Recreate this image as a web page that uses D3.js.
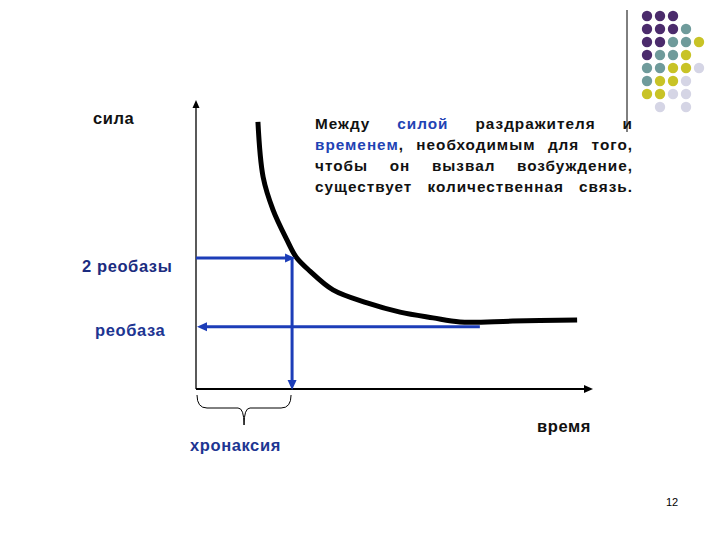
<!DOCTYPE html>
<html>
<head>
<meta charset="utf-8">
<script src="https://cdn.jsdelivr.net/npm/d3@7/dist/d3.min.js"></script>
<style>
  html, body { margin: 0; padding: 0; background: #fff; }
  svg text { font-family: Arial, "Liberation Sans", sans-serif; }
</style>
</head>
<body>
<div id="chart"></div>
<script>
// strength-duration curve, time and force in % of the axis length
const curveTime  = [15.6, 16.9, 19.4, 22.9, 25.2, 28.7, 34.5, 43.1, 51.4, 59.7, 66.5, 79.8, 96.0];
const curveForce = [92.4, 73.4, 62.0, 51.6, 45.7, 40.8, 34.3, 29.8, 26.6, 24.6, 23.2, 23.5, 23.9];
const rheobase = 21.5;
const twoRheobase = 45.3;
const chronaxie = 24.2;
const rheobaseEnd = 71.5;

const axisLabels = { y: "сила", x: "время", two: "2 реобазы", one: "реобаза", chron: "хронаксия" };
// text block, words marked with * are blue
const textLines = [
  ["Между", "*силой", "раздражителя", "и"],
  ["*временем,", "необходимым", "для", "того,"],
  ["чтобы", "он", "вызвал", "возбуждение,"],
  ["существует", "количественная", "связь."]
];
const pageNumber = "12";
// decorative dot grid, P purple, T teal, Y yellow, L lavender, . empty
const dotRows = ["PPP", "PPPT", "PPTTY", "PTTY", "TTYYL", "TYYL", "YYLL", ".L.L"];
const dotColors = { P: "#4b2b6c", T: "#6f9b9b", Y: "#c8c326", L: "#d5d5e5" };

const width = 720, height = 540;
const blue = "#1c3db8";

const svg = d3.select("#chart").append("svg")
  .attr("width", width)
  .attr("height", height);

const x = d3.scaleLinear().domain([0, 100]).range([196, 593]);
const y = d3.scaleLinear().domain([0, 100]).range([389, 100]);

// axes
svg.append("line")
  .attr("x1", x(0)).attr("y1", y(0))
  .attr("x2", x(0)).attr("y2", y(100) + 6)
  .attr("stroke", "#000").attr("stroke-width", 1.3);
svg.append("path")
  .attr("d", `M${x(0)},${y(100)} l-3.5,8 l7,0 z`)
  .attr("fill", "#000");
svg.append("line")
  .attr("x1", x(0)).attr("y1", y(0))
  .attr("x2", x(100) - 7).attr("y2", y(0))
  .attr("stroke", "#000").attr("stroke-width", 2);
svg.append("path")
  .attr("d", `M${x(100)},${y(0)} l-9,-4 l0,8 z`)
  .attr("fill", "#000");

// curve
const pts = curveTime.map((t, i) => [t, curveForce[i]]);
const line = d3.line()
  .curve(d3.curveCatmullRom.alpha(0.5))
  .x(d => x(d[0]))
  .y(d => y(d[1]));
svg.append("path")
  .datum(pts)
  .attr("d", line)
  .attr("fill", "none")
  .attr("stroke", "#000")
  .attr("stroke-width", 5);

// blue arrows
function arrowHead(tx, ty, dir) {
  const L = 10, W = 4.5;
  let d;
  if (dir === "right") d = `M${tx},${ty} l${-L},${-W} l0,${2 * W} z`;
  if (dir === "left") d = `M${tx},${ty} l${L},${-W} l0,${2 * W} z`;
  if (dir === "down") d = `M${tx},${ty} l${-W},${-L} l${2 * W},0 z`;
  svg.append("path").attr("d", d).attr("fill", blue);
}
svg.append("line")
  .attr("x1", x(0)).attr("y1", y(twoRheobase))
  .attr("x2", x(chronaxie) - 6).attr("y2", y(twoRheobase))
  .attr("stroke", blue).attr("stroke-width", 3);
arrowHead(x(chronaxie) + 3, y(twoRheobase), "right");
svg.append("line")
  .attr("x1", x(chronaxie)).attr("y1", y(twoRheobase))
  .attr("x2", x(chronaxie)).attr("y2", y(0) - 6)
  .attr("stroke", blue).attr("stroke-width", 3);
arrowHead(x(chronaxie), y(0) + 1, "down");
svg.append("line")
  .attr("x1", x(rheobaseEnd)).attr("y1", y(rheobase))
  .attr("x2", x(0) + 8).attr("y2", y(rheobase))
  .attr("stroke", blue).attr("stroke-width", 3);
arrowHead(x(0) + 1, y(rheobase), "left");

// brace under chronaxie
const bx0 = x(0) + 1, bx1 = x(chronaxie) - 1, bm = (bx0 + bx1) / 2, by = y(0) + 6;
svg.append("path")
  .attr("d", `M${bx0},${by} Q${bx0},${by + 13} ${bx0 + 10},${by + 13}
              L${bm - 6},${by + 13} Q${bm},${by + 13} ${bm},${by + 30}
              Q${bm},${by + 13} ${bm + 6},${by + 13}
              L${bx1 - 10},${by + 13} Q${bx1},${by + 13} ${bx1},${by}`)
  .attr("fill", "none").attr("stroke", "#000").attr("stroke-width", 1);

// labels
const lab = (t, px, py, fill) => svg.append("text")
  .attr("x", px).attr("y", py)
  .attr("fill", fill)
  .attr("font-size", 16.5)
  .attr("font-weight", "bold")
  .attr("letter-spacing", 0.6)
  .text(t);
lab(axisLabels.y, 93, 124, "#111");
lab(axisLabels.two, 82, 272, "#1b2c80");
lab(axisLabels.one, 95, 336, "#1d3592");
lab(axisLabels.chron, 190, 451, "#1d3592");
lab(axisLabels.x, 537, 432, "#111");

// justified text block
const tx0 = 315, tx1 = 633, lineH = 21, ty0 = 129;
textLines.forEach((words, li) => {
  const g = svg.append("g");
  const nodes = words.map(w => g.append("text")
    .attr("y", ty0 + li * lineH)
    .attr("font-size", 15.3)
    .attr("font-weight", "bold")
    .attr("letter-spacing", 1)
    .attr("fill", w.startsWith("*") ? "#1f43b4" : "#111")
    .text(w.replace("*", "")));
  // keep comma after a blue word black
  nodes.forEach((n, i) => {
    const w = words[i];
    if (w.startsWith("*") && w.endsWith(",")) {
      n.text(null);
      n.append("tspan").text(w.slice(1, -1));
      n.append("tspan").attr("fill", "#111").text(",");
    }
  });
  const widths = nodes.map(n => n.node().getComputedTextLength());
  const total = d3.sum(widths);
  const gap = (tx1 - tx0 - total) / (words.length - 1);
  let cx = tx0;
  nodes.forEach((n, i) => { n.attr("x", cx); cx += widths[i] + gap; });
});

// thin vertical rule near the dots
svg.append("line")
  .attr("x1", 627).attr("y1", 10).attr("x2", 627).attr("y2", 132)
  .attr("stroke", "#000").attr("stroke-width", 1);

// dot grid
const dots = [];
dotRows.forEach((row, r) => row.split("").forEach((c, k) => {
  if (c !== ".") dots.push({ r, k, c });
}));
const gx = d3.scaleLinear().domain([0, 4]).range([647, 699]);
const gy = d3.scaleLinear().domain([0, 7]).range([16, 107]);
svg.selectAll("circle.dot")
  .data(dots)
  .enter()
  .append("circle")
  .attr("class", "dot")
  .attr("cx", d => gx(d.k))
  .attr("cy", d => gy(d.r))
  .attr("r", 5.2)
  .attr("fill", d => dotColors[d.c]);

// page number
svg.append("text")
  .attr("x", 666).attr("y", 506)
  .attr("font-size", 11)
  .attr("fill", "#000")
  .text(pageNumber);
</script>
</body>
</html>
